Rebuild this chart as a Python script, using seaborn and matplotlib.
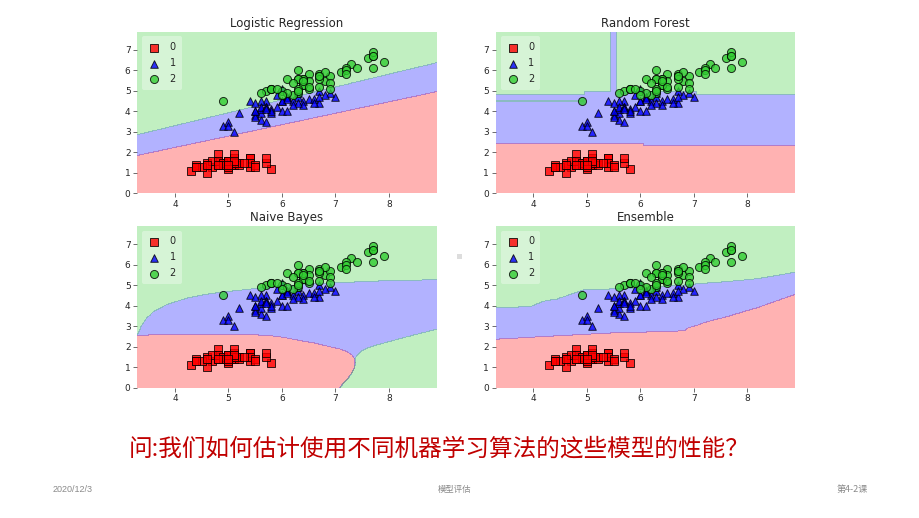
import numpy as np
import pandas as pd
import matplotlib
matplotlib.use("Agg")
import matplotlib.pyplot as plt
from matplotlib.patches import Rectangle
from matplotlib.path import Path
import seaborn as sns

# ---------------- data (iris: sepal length vs petal length) ----------------
setosa_sl = [5.1,4.9,4.7,4.6,5.0,5.4,4.6,5.0,4.4,4.9,5.4,4.8,4.8,4.3,5.8,5.7,5.4,5.1,5.7,5.1,
             5.4,5.1,4.6,5.1,4.8,5.0,5.0,5.2,5.2,4.7,4.8,5.4,5.2,5.5,4.9,5.0,5.5,4.9,4.4,5.1,
             5.0,4.5,4.4,5.0,5.1,4.8,5.1,4.6,5.3,5.0]
setosa_pl = [1.4,1.4,1.3,1.5,1.4,1.7,1.4,1.5,1.4,1.5,1.5,1.6,1.4,1.1,1.2,1.5,1.3,1.4,1.7,1.5,
             1.7,1.5,1.0,1.7,1.9,1.6,1.6,1.5,1.4,1.6,1.6,1.5,1.5,1.4,1.5,1.2,1.3,1.4,1.3,1.5,
             1.3,1.3,1.3,1.6,1.9,1.4,1.6,1.4,1.5,1.4]
versicolor_sl = [7.0,6.4,6.9,5.5,6.5,5.7,6.3,4.9,6.6,5.2,5.0,5.9,6.0,6.1,5.6,6.7,5.6,5.8,6.2,5.6,
                 5.9,6.1,6.3,6.1,6.4,6.6,6.8,6.7,6.0,5.7,5.5,5.5,5.8,6.0,5.4,6.0,6.7,6.3,5.6,5.5,
                 5.5,6.1,5.8,5.0,5.6,5.7,5.7,6.2,5.1,5.7]
versicolor_pl = [4.7,4.5,4.9,4.0,4.6,4.5,4.7,3.3,4.6,3.9,3.5,4.2,4.0,4.7,3.6,4.4,4.5,4.1,4.5,3.9,
                 4.8,4.0,4.9,4.7,4.3,4.4,4.8,5.0,4.5,3.5,3.8,3.7,3.9,5.1,4.5,4.5,4.7,4.4,4.1,4.0,
                 4.4,4.6,4.0,3.3,4.2,4.2,4.2,4.3,3.0,4.1]
virginica_sl = [6.3,5.8,7.1,6.3,6.5,7.6,4.9,7.3,6.7,7.2,6.5,6.4,6.8,5.7,5.8,6.4,6.5,7.7,7.7,6.0,
                6.9,5.6,7.7,6.3,6.7,7.2,6.2,6.1,6.4,7.2,7.4,7.9,6.4,6.3,6.1,7.7,6.3,6.4,6.0,6.9,
                6.7,6.9,5.8,6.8,6.7,6.7,6.3,6.5,6.2,5.9]
virginica_pl = [6.0,5.1,5.9,5.6,5.8,6.6,4.5,6.3,5.8,6.1,5.1,5.3,5.5,5.0,5.1,5.3,5.5,6.7,6.9,5.0,
                5.7,4.9,6.7,4.9,5.7,6.0,4.8,4.9,5.6,5.8,6.1,6.4,5.6,5.1,5.6,6.1,5.6,5.5,4.8,5.4,
                5.6,5.1,5.1,5.9,5.7,5.2,5.0,5.2,5.4,5.1]

class_labels = ["0", "1", "2"]
titles = ["Logistic Regression", "Random Forest", "Naive Bayes", "Ensemble"]

# Random forest regions: (x0, x1, y0, y1, class), painted in order
rf_rects = [
    (3.30, 6.05, 0.00, 2.44, 0),
    (6.05, 8.90, 0.00, 2.35, 0),
    (3.30, 4.95, 4.82, 7.90, 2),
    (4.95, 5.44, 4.96, 7.90, 2),
    (5.55, 7.05, 4.95, 7.90, 2),
    (7.05, 8.90, 4.83, 7.90, 2),
    (3.30, 4.93, 4.49, 4.53, 2),
]

# Naive Bayes region outlines
nb_red_x = [3.25, 3.25, 4.00, 4.50, 5.00, 5.50, 5.80, 6.05, 6.28, 6.60, 6.90, 7.08, 7.22,
            7.31, 7.36, 7.37, 7.35, 7.30, 7.23, 7.14, 7.06]
nb_red_y = [-0.1, 2.55, 2.58, 2.60, 2.60, 2.57, 2.52, 2.44, 2.32, 2.17, 1.99, 1.88, 1.74,
            1.58, 1.40, 1.20, 0.95, 0.70, 0.42, 0.18, -0.1]
nb_blue_x = [3.25, 3.31, 3.34, 3.38, 3.46, 3.60, 3.85, 4.22, 4.55, 4.85, 5.22, 5.80, 6.40,
             6.90, 7.80, 8.95, 8.95, 8.60, 8.30, 7.90, 7.65, 7.50, 7.41, 7.36]
nb_blue_y = [2.55, 2.62, 2.78, 3.05, 3.35, 3.71, 4.05, 4.36, 4.53, 4.65, 4.75, 4.92, 5.03,
             5.10, 5.20, 5.27, 2.88, 2.65, 2.45, 2.17, 1.98, 1.80, 1.60, 1.40]

# Ensemble boundaries
ens_x = [3.30, 3.94, 4.19, 4.44, 4.94, 5.07, 5.66, 6.00, 6.82, 6.88, 7.07, 7.20, 7.57, 8.20, 8.90]
ens_b01 = [2.36, 2.45, 2.48, 2.52, 2.59, 2.61, 2.69, 2.70, 2.77, 2.90, 3.05, 3.18, 3.42, 3.91, 4.55]
ens_b12 = [3.91, 3.94, 4.21, 4.32, 4.76, 4.78, 4.83, 4.86, 5.00, 5.01, 5.06, 5.09, 5.16, 5.31, 5.63]

# ---------------- assemble ----------------
X = np.column_stack([setosa_sl + versicolor_sl + virginica_sl,
                     setosa_pl + versicolor_pl + virginica_pl])
y = np.repeat([0, 1, 2], [len(setosa_sl), len(versicolor_sl), len(virginica_sl)])
df = pd.DataFrame({"sl": X[:, 0], "pl": X[:, 1], "cls": y})

x_min, x_max = X[:, 0].min() - 1, X[:, 0].max() + 1
y_min, y_max = X[:, 1].min() - 1, X[:, 1].max() + 1
xx, yy = np.meshgrid(np.arange(x_min, x_max, 0.01), np.arange(y_min, y_max, 0.01))
grid = np.column_stack([xx.ravel(), yy.ravel()])

# Logistic regression (one-vs-rest, L2, C=1, penalised intercept)
def fit_ovr_lr(X, y, C=1.0, iters=60):
    Xa = np.column_stack([X, np.ones(len(X))])
    W = []
    for k in np.unique(y):
        t = np.where(y == k, 1.0, -1.0)
        w = np.zeros(Xa.shape[1])
        for _ in range(iters):
            z = t * (Xa @ w)
            s = 1 / (1 + np.exp(-z))
            g = w + C * Xa.T @ ((s - 1) * t)
            H = np.eye(len(w)) + C * (Xa.T * (s * (1 - s))) @ Xa
            w = w - np.linalg.solve(H, g)
        W.append(w)
    return np.array(W)

W = fit_ovr_lr(X, y)
Z_lr = np.argmax(np.column_stack([grid, np.ones(len(grid))]) @ W.T, axis=1).reshape(xx.shape)

# Random forest (regions from picture)
Z_rf = np.ones_like(xx, dtype=int)
for x0, x1, y0, y1, c in rf_rects:
    Z_rf[(xx >= x0) & (xx < x1) & (yy >= y0) & (yy < y1)] = c

# Naive Bayes (outlines from picture)
red_top_x = nb_red_x[1:12]
red_top_y = nb_red_y[1:12]
blue_poly = np.column_stack([nb_blue_x + red_top_x[::-1], nb_blue_y + red_top_y[::-1]])
Z_nb = np.full(xx.size, 2)
Z_nb[Path(blue_poly).contains_points(grid)] = 1
Z_nb[Path(np.column_stack([nb_red_x, nb_red_y])).contains_points(grid)] = 0
Z_nb = Z_nb.reshape(xx.shape)

# Ensemble (boundaries from picture)
b01 = np.interp(xx, ens_x, ens_b01)
b12 = np.interp(xx, ens_x, ens_b12)
Z_ens = np.where(yy < b01, 0, np.where(yy < b12, 1, 2))

regions = [Z_lr, Z_rf, Z_nb, Z_ens]

# ---------------- plot ----------------
sns.set_theme(style="ticks")
plt.rcParams["font.family"] = ["DejaVu Sans"]

fig = plt.figure(figsize=(9.2, 5.18), dpi=100)
fig.patch.set_facecolor("white")
W_ax, H_ax = 299 / 920, 161.7 / 518
positions = [
    [137.5 / 920, 1 - 193.3 / 518, W_ax, H_ax],
    [496 / 920, 1 - 193.3 / 518, W_ax, H_ax],
    [137.5 / 920, 1 - 387.5 / 518, W_ax, H_ax],
    [496 / 920, 1 - 387.5 / 518, W_ax, H_ax],
]
colors = ["red", "blue", "limegreen"]
markers = ["s", "^", "o"]
sizes = [26, 30, 34]

for pos, Z, title in zip(positions, regions, titles):
    ax = fig.add_axes(pos)
    ax.contourf(xx, yy, Z, levels=[-0.5, 0.5, 1.5, 2.5], colors=colors, alpha=0.3)
    for k in range(3):
        sns.scatterplot(data=df[df.cls == k], x="sl", y="pl", ax=ax, color=colors[k],
                        marker=markers[k], s=sizes[k], edgecolor="black", linewidth=0.7,
                        alpha=0.8, label=class_labels[k], legend=False)
    ax.set_xlim(xx.min(), xx.max())
    ax.set_ylim(yy.min(), yy.max())
    ax.set_xlabel("")
    ax.set_ylabel("")
    ax.set_xticks([4, 5, 6, 7, 8])
    ax.set_yticks(range(8))
    for sp in ax.spines.values():
        sp.set_visible(False)
    ax.tick_params(labelsize=6.5, length=3, width=0.6, colors="#555555",
                   labelcolor="#262626", pad=2)
    ax.set_title(title, fontsize=8.5, pad=3.5, color="#262626")
    ax.legend(loc="upper left", fontsize=7, frameon=True, framealpha=0.35,
              facecolor="white", edgecolor="none", handletextpad=1.0,
              labelspacing=0.6, borderpad=0.6, handlelength=1.2, markerscale=1.0)

cjk = ["Noto Sans CJK SC", "DejaVu Sans"]
fig.text(0.477, 1 - 449 / 518, "问:我们如何估计使用不同机器学习算法的这些模型的性能？",
         ha="center", va="center", fontsize=17, color="#C00000", family=cjk)
foot = ["Liberation Sans", "Noto Sans CJK SC", "DejaVu Sans"]
fig.text(53 / 920, 1 - 489 / 518, "2020/12/3", ha="left", va="center",
         fontsize=6.5, color="#8A8A8A", family=foot)
fig.text(455 / 920, 1 - 489 / 518, "模型评估", ha="center", va="center",
         fontsize=6, color="#8A8A8A", family=cjk)
fig.text(868 / 920, 1 - 489 / 518, "第4-2课", ha="right", va="center",
         fontsize=6.5, color="#8A8A8A", family=cjk)
fig.add_artist(Rectangle((457 / 920, 1 - 259 / 518), 5 / 920, 5 / 518,
                         transform=fig.transFigure, facecolor="#DDDDDD", edgecolor="none"))

fig.savefig("out.png", dpi=100, facecolor="white")
